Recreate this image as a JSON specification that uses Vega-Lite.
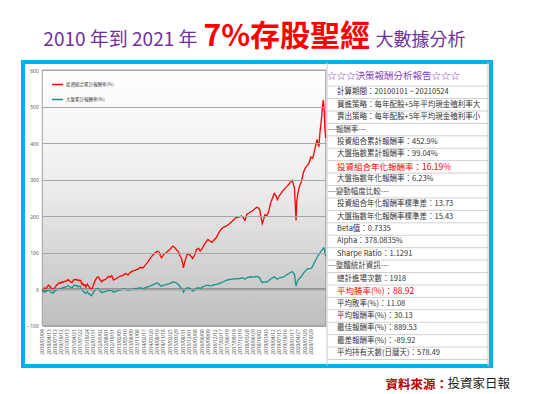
{
  "$schema": "https://vega.github.io/schema/vega-lite/v6.json",
  "width": 468,
  "height": 304,
  "autosize": {"type": "none"},
  "padding": {"left": 23, "top": 62, "right": 45, "bottom": 28},
  "background": "white",
  "config": {
    "view": {"stroke": "#00B0F0", "strokeWidth": 4, "fill": "white"},
    "font": "Noto Sans CJK TC"
  },
  "title": {
    "text": "投資家日報",
    "orient": "bottom",
    "anchor": "end",
    "frame": "group",
    "align": "right",
    "baseline": "alphabetic",
    "offset": -2.5,
    "dx": 19,
    "fontSize": 12.5,
    "fontWeight": "normal",
    "color": "#222222",
    "font": "Noto Sans CJK TC"
  },
  "datasets": {
    "s": [
      {"d":"2010-01-04","p":0,"m":0},
      {"d":"2010-01-19","p":-4,"m":-7},
      {"d":"2010-02-01","p":3,"m":-3},
      {"d":"2010-02-14","p":-3,"m":-8},
      {"d":"2010-03-01","p":2,"m":-6},
      {"d":"2010-03-15","p":6,"m":-4},
      {"d":"2010-04-06","p":11,"m":-1},
      {"d":"2010-04-24","p":8,"m":-5},
      {"d":"2010-05-20","p":2,"m":-9},
      {"d":"2010-06-14","p":-2,"m":-11},
      {"d":"2010-06-28","p":3,"m":-7},
      {"d":"2010-07-09","p":5,"m":-5},
      {"d":"2010-07-25","p":9,"m":-3},
      {"d":"2010-08-08","p":12,"m":-2},
      {"d":"2010-08-25","p":15,"m":0},
      {"d":"2010-09-13","p":18,"m":1},
      {"d":"2010-10-01","p":16,"m":0},
      {"d":"2010-10-19","p":20,"m":3},
      {"d":"2010-11-06","p":19,"m":4},
      {"d":"2010-11-24","p":22,"m":6},
      {"d":"2010-12-12","p":21,"m":5},
      {"d":"2011-01-04","p":24,"m":8},
      {"d":"2011-01-19","p":26,"m":10},
      {"d":"2011-02-06","p":23,"m":7},
      {"d":"2011-02-25","p":20,"m":5},
      {"d":"2011-03-15","p":18,"m":4},
      {"d":"2011-04-02","p":24,"m":8},
      {"d":"2011-04-20","p":27,"m":11},
      {"d":"2011-05-08","p":25,"m":9},
      {"d":"2011-05-27","p":27,"m":10},
      {"d":"2011-06-14","p":23,"m":6},
      {"d":"2011-07-02","p":25,"m":8},
      {"d":"2011-07-20","p":24,"m":7},
      {"d":"2011-08-05","p":14,"m":-1},
      {"d":"2011-08-19","p":16,"m":-4},
      {"d":"2011-09-06","p":10,"m":-8},
      {"d":"2011-09-21","p":12,"m":-9},
      {"d":"2011-10-05","p":6,"m":-12},
      {"d":"2011-10-27","p":14,"m":-7},
      {"d":"2011-11-14","p":8,"m":-11},
      {"d":"2011-12-06","p":3,"m":-15},
      {"d":"2011-12-24","p":-1,"m":-18},
      {"d":"2012-01-19","p":8,"m":-11},
      {"d":"2012-02-14","p":22,"m":-3},
      {"d":"2012-03-15","p":32,"m":1},
      {"d":"2012-04-02","p":34,"m":2},
      {"d":"2012-04-24","p":28,"m":-3},
      {"d":"2012-05-20","p":20,"m":-9},
      {"d":"2012-06-14","p":24,"m":-8},
      {"d":"2012-07-09","p":26,"m":-7},
      {"d":"2012-08-08","p":30,"m":-5},
      {"d":"2012-09-06","p":35,"m":-3},
      {"d":"2012-10-01","p":33,"m":-4},
      {"d":"2012-10-19","p":37,"m":-2},
      {"d":"2012-11-14","p":25,"m":-9},
      {"d":"2012-12-12","p":28,"m":-6},
      {"d":"2013-01-19","p":32,"m":-4},
      {"d":"2013-02-25","p":36,"m":-2},
      {"d":"2013-04-02","p":38,"m":0},
      {"d":"2013-05-08","p":43,"m":1},
      {"d":"2013-06-14","p":39,"m":-3},
      {"d":"2013-07-20","p":46,"m":-1},
      {"d":"2013-08-26","p":50,"m":0},
      {"d":"2013-10-01","p":52,"m":2},
      {"d":"2013-11-06","p":55,"m":2},
      {"d":"2013-12-12","p":60,"m":4},
      {"d":"2014-01-19","p":58,"m":1},
      {"d":"2014-02-25","p":66,"m":4},
      {"d":"2014-04-02","p":75,"m":6},
      {"d":"2014-05-08","p":85,"m":9},
      {"d":"2014-06-14","p":93,"m":12},
      {"d":"2014-07-20","p":100,"m":15},
      {"d":"2014-08-15","p":104,"m":17},
      {"d":"2014-09-13","p":102,"m":14},
      {"d":"2014-10-01","p":92,"m":10},
      {"d":"2014-10-19","p":86,"m":8},
      {"d":"2014-11-17","p":94,"m":11},
      {"d":"2014-12-12","p":98,"m":12},
      {"d":"2015-01-19","p":104,"m":14},
      {"d":"2015-02-25","p":110,"m":16},
      {"d":"2015-04-02","p":118,"m":20},
      {"d":"2015-04-27","p":115,"m":19},
      {"d":"2015-05-27","p":108,"m":17},
      {"d":"2015-06-25","p":102,"m":12},
      {"d":"2015-07-20","p":90,"m":6},
      {"d":"2015-08-08","p":84,"m":2},
      {"d":"2015-08-26","p":70,"m":-3},
      {"d":"2015-09-06","p":58,"m":-8},
      {"d":"2015-09-21","p":72,"m":-2},
      {"d":"2015-10-12","p":85,"m":1},
      {"d":"2015-11-06","p":98,"m":4},
      {"d":"2015-12-02","p":95,"m":3},
      {"d":"2016-01-04","p":88,"m":-2},
      {"d":"2016-01-19","p":84,"m":-5},
      {"d":"2016-02-14","p":92,"m":-3},
      {"d":"2016-03-15","p":108,"m":2},
      {"d":"2016-04-13","p":112,"m":4},
      {"d":"2016-05-08","p":104,"m":2},
      {"d":"2016-06-03","p":110,"m":5},
      {"d":"2016-07-02","p":120,"m":8},
      {"d":"2016-07-31","p":128,"m":10},
      {"d":"2016-08-30","p":136,"m":11},
      {"d":"2016-09-28","p":132,"m":9},
      {"d":"2016-10-27","p":128,"m":10},
      {"d":"2016-11-24","p":134,"m":12},
      {"d":"2017-01-04","p":142,"m":13},
      {"d":"2017-02-06","p":155,"m":15},
      {"d":"2017-03-15","p":165,"m":18},
      {"d":"2017-04-20","p":170,"m":21},
      {"d":"2017-05-27","p":173,"m":24},
      {"d":"2017-07-02","p":178,"m":26},
      {"d":"2017-08-08","p":184,"m":27},
      {"d":"2017-09-13","p":190,"m":28},
      {"d":"2017-10-19","p":196,"m":29},
      {"d":"2017-11-24","p":197,"m":28},
      {"d":"2018-01-04","p":200,"m":31},
      {"d":"2018-01-30","p":196,"m":30},
      {"d":"2018-02-25","p":188,"m":27},
      {"d":"2018-03-24","p":205,"m":31},
      {"d":"2018-04-20","p":208,"m":33},
      {"d":"2018-05-20","p":212,"m":34},
      {"d":"2018-06-14","p":214,"m":33},
      {"d":"2018-07-20","p":220,"m":34},
      {"d":"2018-08-15","p":224,"m":35},
      {"d":"2018-09-13","p":222,"m":33},
      {"d":"2018-10-01","p":216,"m":30},
      {"d":"2018-10-19","p":196,"m":22},
      {"d":"2018-11-06","p":180,"m":18},
      {"d":"2018-11-24","p":190,"m":20},
      {"d":"2018-12-16","p":204,"m":20},
      {"d":"2019-01-08","p":200,"m":19},
      {"d":"2019-02-06","p":212,"m":23},
      {"d":"2019-03-07","p":235,"m":28},
      {"d":"2019-04-06","p":250,"m":31},
      {"d":"2019-05-01","p":262,"m":34},
      {"d":"2019-05-27","p":255,"m":30},
      {"d":"2019-06-14","p":245,"m":27},
      {"d":"2019-07-09","p":255,"m":30},
      {"d":"2019-08-08","p":262,"m":32},
      {"d":"2019-09-06","p":270,"m":33},
      {"d":"2019-10-05","p":276,"m":36},
      {"d":"2019-11-06","p":282,"m":40},
      {"d":"2019-12-02","p":288,"m":43},
      {"d":"2020-01-04","p":295,"m":47},
      {"d":"2020-01-23","p":298,"m":48},
      {"d":"2020-02-06","p":285,"m":44},
      {"d":"2020-02-21","p":278,"m":40},
      {"d":"2020-03-04","p":230,"m":22},
      {"d":"2020-03-15","p":188,"m":8},
      {"d":"2020-03-25","p":240,"m":18},
      {"d":"2020-04-13","p":265,"m":25},
      {"d":"2020-05-05","p":282,"m":30},
      {"d":"2020-06-03","p":295,"m":35},
      {"d":"2020-07-02","p":320,"m":44},
      {"d":"2020-07-31","p":332,"m":50},
      {"d":"2020-08-26","p":338,"m":55},
      {"d":"2020-09-21","p":345,"m":56},
      {"d":"2020-10-19","p":362,"m":57},
      {"d":"2020-11-14","p":358,"m":62},
      {"d":"2020-12-06","p":375,"m":72},
      {"d":"2021-01-04","p":400,"m":82},
      {"d":"2021-01-19","p":410,"m":88},
      {"d":"2021-02-01","p":395,"m":92},
      {"d":"2021-02-14","p":392,"m":95},
      {"d":"2021-03-01","p":430,"m":100},
      {"d":"2021-03-15","p":452,"m":104},
      {"d":"2021-03-29","p":480,"m":106},
      {"d":"2021-04-13","p":510,"m":110},
      {"d":"2021-04-20","p":518,"m":113},
      {"d":"2021-05-01","p":490,"m":112},
      {"d":"2021-05-12","p":440,"m":100},
      {"d":"2021-05-24","p":414,"m":90}
    ],
    "t": [
      {"r":0,"g":"head","t":"☆☆☆決策報酬分析報告☆☆☆"},
      {"r":1,"g":"item","t":"計算期間：20100101 ~ 20210524"},
      {"r":2,"g":"item","t":"買進策略：每年配股+5年平均現金殖利率大於7"},
      {"r":3,"g":"item","t":"賣出策略：每年配股+5年平均現金殖利率小於5"},
      {"r":4,"g":"sec","t":"---報酬率---"},
      {"r":5,"g":"item","t":"投資組合累計報酬率：452.9%"},
      {"r":6,"g":"item","t":"大盤指數累計報酬率：99.04%"},
      {"r":7,"g":"key","t":"投資組合年化報酬率：16.19%"},
      {"r":8,"g":"item","t":"大盤指數年化報酬率：6.23%"},
      {"r":9,"g":"sec","t":"---變動幅度比較---"},
      {"r":10,"g":"item","t":"投資組合年化報酬率標準差：13.73"},
      {"r":11,"g":"item","t":"大盤指數年化報酬率標準差：15.43"},
      {"r":12,"g":"item","t":"Beta值：0.7335"},
      {"r":13,"g":"item","t":"Alpha：378.0835%"},
      {"r":14,"g":"item","t":"Sharpe Ratio：1.1291"},
      {"r":15,"g":"sec","t":"---整體統計資訊---"},
      {"r":16,"g":"item","t":"總計進場次數：1918"},
      {"r":17,"g":"key","t":"平均勝率(%)：88.92"},
      {"r":18,"g":"item","t":"平均敗率(%)：11.08"},
      {"r":19,"g":"item","t":"平均報酬率(%)：30.13"},
      {"r":20,"g":"item","t":"最佳報酬率(%)：889.53"},
      {"r":21,"g":"item","t":"最差報酬率(%)：-89.92"},
      {"r":22,"g":"item","t":"平均持有天數(日曆天)：578.49"}
    ]
  },
  "layer": [
    {
      "layer": [
        {
          "data": {"values": [{}]},
          "mark": {
            "type": "rect",
            "fill": {
              "gradient": "linear", "x1": 0, "y1": 0, "x2": 0, "y2": 1,
              "stops": [
                {"offset": 0, "color": "#ffffff"},
                {"offset": 0.45, "color": "#ededed"},
                {"offset": 1, "color": "#bebebe"}
              ]
            },
            "stroke": "#a0a0a0",
            "strokeWidth": 1
          },
          "encoding": {
            "x": {
              "datum": {"year": 2010, "month": 1, "date": 4}, "type": "temporal",
              "scale": {
                "domain": [{"year": 2010, "month": 1, "date": 4}, {"year": 2021, "month": 5, "date": 24}],
                "range": [19.3, 302.7]
              },
              "axis": {
                "orient": "bottom",
                "offset": -40.3,
                "tickCount": 200,
                "values": [
                  {"year":2010,"month":1,"date":4},{"year":2010,"month":4,"date":13},{"year":2010,"month":7,"date":13},{"year":2010,"month":10,"date":12},
                  {"year":2011,"month":1,"date":13},{"year":2011,"month":4,"date":21},{"year":2011,"month":7,"date":22},{"year":2011,"month":10,"date":24},
                  {"year":2012,"month":1,"date":31},{"year":2012,"month":5,"date":2},{"year":2012,"month":8,"date":1},{"year":2012,"month":10,"date":31},
                  {"year":2013,"month":2,"date":5},{"year":2013,"month":5,"date":10},{"year":2013,"month":8,"date":9},{"year":2013,"month":11,"date":8},
                  {"year":2014,"month":2,"date":17},{"year":2014,"month":5,"date":20},{"year":2014,"month":8,"date":19},{"year":2014,"month":11,"date":18},
                  {"year":2015,"month":2,"date":25},{"year":2015,"month":5,"date":29},{"year":2015,"month":8,"date":31},{"year":2015,"month":12,"date":1},
                  {"year":2016,"month":3,"date":8},{"year":2016,"month":6,"date":8},{"year":2016,"month":9,"date":9},{"year":2016,"month":12,"date":12},
                  {"year":2017,"month":3,"date":17},{"year":2017,"month":6,"date":19},{"year":2017,"month":9,"date":19},{"year":2017,"month":12,"date":19},
                  {"year":2018,"month":3,"date":28},{"year":2018,"month":6,"date":29},{"year":2018,"month":10,"date":2},
                  {"year":2019,"month":1,"date":3},{"year":2019,"month":4,"date":12},{"year":2019,"month":7,"date":15},{"year":2019,"month":10,"date":16},
                  {"year":2020,"month":1,"date":17},{"year":2020,"month":4,"date":27},{"year":2020,"month":7,"date":29},{"year":2020,"month":10,"date":29}
                ],
                "format": "%Y/%m/%d",
                "labelAngle": 270,
                "labelFontSize": 4.8,
                "labelFont": "Noto Sans",
                "labelColor": "#595959",
                "labelPadding": 3,
                "labelOverlap": false,
                "labelFlush": false,
                "labelBound": false,
                "ticks": false,
                "domain": false,
                "grid": false,
                "title": "2010 年到 2021 年",
                "titleX": 174,
                "titleY": -280.7,
                "titleAngle": 0,
                "titleAlign": "right",
                "titleBaseline": "alphabetic",
                "titleFontSize": 19,
                "titleFontWeight": "normal",
                "titleColor": "#7030A0",
                "titleFont": "Noto Sans CJK TC"
              }
            },
            "x2": {"datum": {"year": 2021, "month": 5, "date": 24}},
            "y": {
              "datum": -100, "type": "quantitative",
              "scale": {"domain": [-100, 600], "range": [263.7, 8], "nice": false, "zero": false},
              "axis": {
                "orient": "left",
                "offset": -19.3,
                "values": [-100, 0, 100, 200, 300, 400, 500, 600],
                "tickCount": 20,
                "grid": true,
                "gridColor": "#a6a6a6",
                "gridWidth": 1,
                "domain": false,
                "ticks": false,
                "labelFontSize": 5,
                "labelFont": "Noto Sans",
                "labelColor": "#595959",
                "labelPadding": 4,
                "zindex": 1,
                "title": "7%存股聖經",
                "titleX": 160.7,
                "titleY": -17,
                "titleAngle": 0,
                "titleAlign": "left",
                "titleBaseline": "alphabetic",
                "titleFontSize": 30,
                "titleFontWeight": "bold",
                "titleColor": "#FF0000",
                "titleFont": "Noto Sans CJK TC"
              }
            },
            "y2": {"datum": 600}
          }
        },
        {
          "data": {"values": [{}]},
          "mark": {"type": "rule", "color": "#7f7f7f", "strokeWidth": 2},
          "encoding": {
            "x": {"datum": {"year": 2010, "month": 1, "date": 4}, "type": "temporal"},
            "x2": {"datum": {"year": 2021, "month": 5, "date": 24}},
            "y": {"datum": 0, "type": "quantitative"}
          }
        },
        {
          "data": {"name": "s"},
          "transform": [{"fold": ["p", "m"], "as": ["k", "v"]}],
          "mark": {"type": "line", "strokeWidth": 1.3},
          "encoding": {
            "x": {"field": "d", "type": "temporal"},
            "y": {"field": "v", "type": "quantitative"},
            "color": {
              "field": "k", "type": "nominal",
              "scale": {"domain": ["p", "m"], "range": ["#FF0000", "#17928D"]},
              "legend": {
                "orient": "none",
                "legendX": 28,
                "legendY": 16,
                "title": null,
                "symbolType": "stroke",
                "symbolSize": 120,
                "symbolStrokeWidth": 1.5,
                "labelFontSize": 4.5,
                "labelColor": "#404040",
                "labelFont": "Noto Sans CJK TC",
                "labelOffset": 2,
                "rowPadding": 5,
                "labelExpr": "datum.label == 'p' ? '投資組合累計報酬率(%)' : '大盤累計報酬率(%)'"
              }
            }
          }
        }
      ]
    },
    {
      "layer": [
        {
          "data": {"name": "t"},
          "mark": {"type": "rule", "color": "#d0d0d0", "strokeWidth": 1},
          "encoding": {
            "y": {
              "field": "r", "type": "ordinal", "bandPosition": 1,
              "scale": {"range": [11.7, 297.5], "paddingInner": 0, "paddingOuter": 0},
              "axis": {
                "orient": "right",
                "labels": false, "ticks": false, "domain": false, "grid": false,
                "title": "資料來源：",
                "titleX": -106,
                "titleY": 326,
                "titleAngle": 0,
                "titleAlign": "left",
                "titleBaseline": "alphabetic",
                "titleFontSize": 12.5,
                "titleFontWeight": "bold",
                "titleColor": "#C00000",
                "titleFont": "Noto Sans CJK TC"
              }
            },
            "x": {
              "datum": 0, "type": "quantitative",
              "scale": {"domain": [0, 1], "range": [304, 465], "nice": false, "zero": false},
              "axis": {
                "orient": "top",
                "labels": false, "ticks": false, "domain": false, "grid": false,
                "title": "大數據分析",
                "titleX": 352,
                "titleY": -17,
                "titleAngle": 0,
                "titleAlign": "left",
                "titleBaseline": "alphabetic",
                "titleFontSize": 18,
                "titleFontWeight": "normal",
                "titleColor": "#7030A0",
                "titleFont": "Noto Sans CJK TC"
              }
            },
            "x2": {"datum": 1}
          }
        },
        {
          "data": {"values": [{}]},
          "mark": {"type": "rule", "color": "#c8c8c8", "strokeWidth": 1},
          "encoding": {"x": {"datum": 0, "type": "quantitative"}}
        },
        {
          "data": {"values": [{}]},
          "mark": {"type": "rule", "color": "#c8c8c8", "strokeWidth": 1},
          "encoding": {"x": {"datum": 1, "type": "quantitative"}}
        },
        {
          "data": {"name": "t"},
          "transform": [{"filter": "datum.g == 'head'"}],
          "mark": {"type": "text", "align": "left", "baseline": "middle", "fontSize": 9.5, "color": "#8A3FC0", "dy": -4, "font": "Noto Sans CJK TC"},
          "encoding": {
            "x": {"datum": 0, "type": "quantitative"},
            "y": {"field": "r", "type": "ordinal"},
            "text": {"field": "t"}
          }
        },
        {
          "data": {"name": "t"},
          "transform": [{"filter": "datum.g == 'sec'"}],
          "mark": {"type": "text", "align": "left", "baseline": "middle", "fontSize": 7.5, "color": "#404040", "dx": 1, "font": "Noto Sans CJK TC"},
          "encoding": {
            "x": {"datum": 0, "type": "quantitative"},
            "y": {"field": "r", "type": "ordinal"},
            "text": {"field": "t"}
          }
        },
        {
          "data": {"name": "t"},
          "transform": [{"filter": "datum.g == 'item'"}],
          "mark": {"type": "text", "align": "left", "baseline": "middle", "fontSize": 7.5, "color": "#333333", "dx": 10, "limit": 150, "ellipsis": " ", "font": "Noto Sans CJK TC"},
          "encoding": {
            "x": {"datum": 0, "type": "quantitative"},
            "y": {"field": "r", "type": "ordinal"},
            "text": {"field": "t"}
          }
        },
        {
          "data": {"name": "t"},
          "transform": [{"filter": "datum.g == 'key'"}],
          "mark": {"type": "text", "align": "left", "baseline": "middle", "fontSize": 8.5, "color": "#FF0000", "dx": 10, "font": "Noto Sans CJK TC"},
          "encoding": {
            "x": {"datum": 0, "type": "quantitative"},
            "y": {"field": "r", "type": "ordinal"},
            "text": {"field": "t"}
          }
        }
      ]
    }
  ],
  "resolve": {
    "scale": {"x": "independent", "y": "independent"},
    "axis": {"x": "independent", "y": "independent"}
  }
}
